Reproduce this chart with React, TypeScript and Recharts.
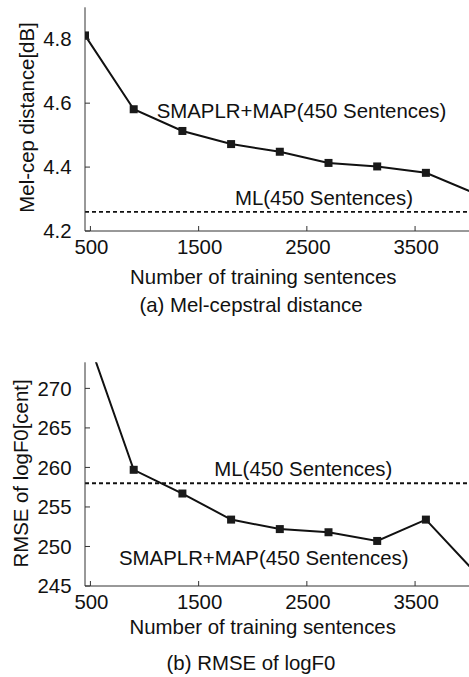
import React from 'react';
import { LineChart, Line, XAxis, YAxis, ReferenceLine } from 'recharts';

// number of training sentences (x) for both panels
const sentences = [450, 900, 1350, 1800, 2250, 2700, 3150, 3600, 4050];

// (a) mel-cepstral distance [dB]
const melCep = [4.812, 4.581, 4.513, 4.472, 4.448, 4.413, 4.402, 4.382, 4.318];
const melCepML = 4.26;
const melCepTicks = [4.2, 4.4, 4.6, 4.8];

// (b) RMSE of logF0 [cent]
const rmseF0 = [277.3, 259.7, 256.7, 253.4, 252.2, 251.8, 250.7, 253.4, 246.8];
const rmseF0ML = 258;
const rmseTicks = [245, 250, 255, 260, 265, 270];

const xTicks = [500, 1500, 2500, 3500];

const FONT = '"Liberation Sans", Arial, Helvetica, sans-serif';
const FS = 20.4;
const INK = '#111';
const AXIS = '#333';

const LeftTick = (props: any) => {
  const { x, y, payload } = props;
  return (
    <g>
      <line x1={x} x2={x + 5} y1={y} y2={y} stroke={AXIS} />
      <text x={x - 13.5} y={y + 7.2} textAnchor="end" fontSize={FS} fontFamily={FONT} fill={INK}>
        {String(payload.value)}
      </text>
    </g>
  );
};

const BottomTick = (props: any) => {
  const { x, y, payload } = props;
  return (
    <g>
      <line x1={x} x2={x} y1={y} y2={y - 5} stroke={AXIS} />
      <text x={x + 1} y={y + 22.8} textAnchor="middle" fontSize={FS} fontFamily={FONT} fill={INK}>
        {String(payload.value)}
      </text>
    </g>
  );
};

const TopTick = (props: any) => {
  const { x, y } = props;
  return <line x1={x} x2={x} y1={y} y2={y + 5} stroke={AXIS} />;
};

const SquareDot = (props: any) => {
  const { cx, cy, index } = props;
  if (cx == null || cy == null) return <g key={`e-${index}`} />;
  return <rect key={`d-${index}`} x={cx - 4} y={cy - 4} width={8} height={8} fill="#1a1a1a" />;
};

interface PanelProps {
  values: number[];
  ml: number;
  domain: [number, number];
  yTicks: number[];
}

const Panel: React.FC<PanelProps> = ({ values, ml, domain, yTicks }) => {
  const data = sentences.map((s, i) => ({ s, v: values[i] }));
  return (
    <LineChart width={560} height={300} data={data} margin={{ top: 7.3, right: 36.7, bottom: 0, left: 0 }}>
      <XAxis
        xAxisId="b"
        dataKey="s"
        type="number"
        domain={[450, 4500]}
        ticks={xTicks}
        interval={0}
        height={69}
        tickSize={0}
        tickMargin={0}
        tickLine={false}
        tick={<BottomTick />}
        stroke={AXIS}
        allowDataOverflow
      />
      <XAxis
        xAxisId="t"
        orientation="top"
        dataKey="s"
        type="number"
        domain={[450, 4500]}
        ticks={xTicks}
        interval={0}
        height={0}
        tickSize={0}
        tickMargin={0}
        tickLine={false}
        tick={<TopTick />}
        stroke={AXIS}
        allowDataOverflow
      />
      <YAxis
        type="number"
        domain={domain}
        ticks={yTicks}
        interval={0}
        width={85}
        tickSize={0}
        tickMargin={0}
        tickLine={false}
        tick={<LeftTick />}
        stroke={AXIS}
        allowDataOverflow
      />
      <ReferenceLine xAxisId="b" y={ml} stroke="#111" strokeWidth={1.8} strokeDasharray="4 3" />
      <Line
        xAxisId="b"
        dataKey="v"
        type="linear"
        stroke="#111"
        strokeWidth={2}
        dot={<SquareDot />}
        activeDot={false}
        isAnimationActive={false}
      />
    </LineChart>
  );
};

const txt = { fontSize: FS, fontFamily: FONT, fill: INK } as const;

export default function App() {
  return (
    <div style={{ position: 'absolute', left: 0, top: 0, width: 469, height: 677, overflow: 'hidden', background: '#fff' }}>
      <div style={{ position: 'absolute', left: 0, top: 0 }}>
        <Panel values={melCep} ml={melCepML} domain={[4.2, 4.9]} yTicks={melCepTicks} />
      </div>
      <div style={{ position: 'absolute', left: 0, top: 355 }}>
        <Panel values={rmseF0} ml={rmseF0ML} domain={[245, 273.3]} yTicks={rmseTicks} />
      </div>
      <svg width={469} height={677} style={{ position: 'absolute', left: 0, top: 0, pointerEvents: 'none' }}>
        {/* panel (a) */}
        <text x={156.7} y={118} {...txt}>SMAPLR+MAP(450 Sentences)</text>
        <text x={235} y={204.5} {...txt}>ML(450 Sentences)</text>
        <text x={34.3} y={117.5} textAnchor="middle" transform="rotate(-90 34.3 117.5)" {...txt}>
          Mel-cep distance[dB]
        </text>
        <text x={263.3} y={283.5} textAnchor="middle" {...txt}>Number of training sentences</text>
        <text x={251} y={312} textAnchor="middle" {...txt}>(a) Mel-cepstral distance</text>
        {/* panel (b) */}
        <text x={214.3} y={475.5} {...txt}>ML(450 Sentences)</text>
        <text x={119} y={565} {...txt}>SMAPLR+MAP(450 Sentences)</text>
        <text x={28.3} y={473.5} textAnchor="middle" transform="rotate(-90 28.3 473.5)" {...txt}>
          RMSE of logF0[cent]
        </text>
        <text x={262.7} y={634} textAnchor="middle" {...txt}>Number of training sentences</text>
        <text x={251} y={670} textAnchor="middle" {...txt}>(b) RMSE of logF0</text>
      </svg>
    </div>
  );
}
